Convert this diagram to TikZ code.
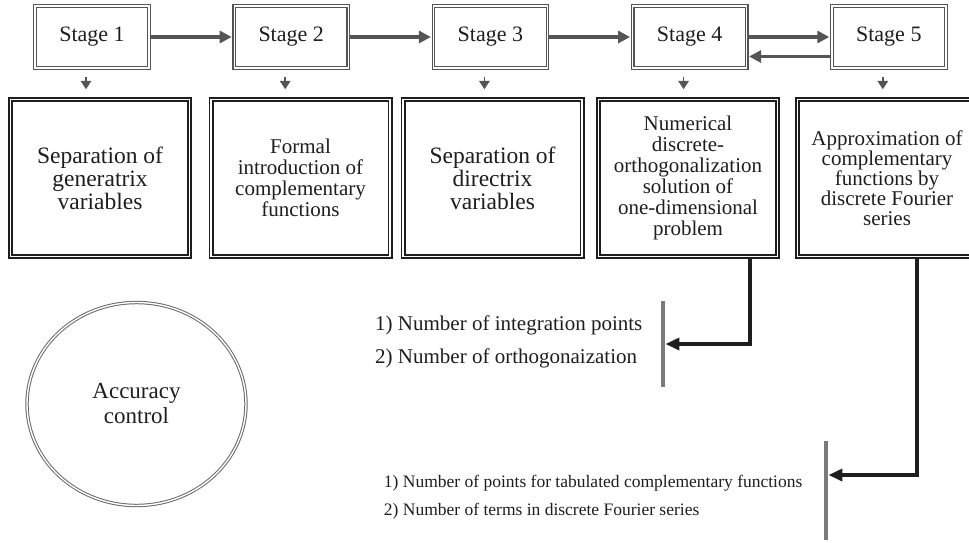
\documentclass[tikz,border=0pt]{standalone}
\usepackage{fontspec}
\setmainfont{Liberation Serif}
\usetikzlibrary{arrows.meta,positioning,shapes.geometric}
\definecolor{StageGray}{HTML}{555555}
\definecolor{RingGray}{HTML}{6A6A6A}
\definecolor{BarGray}{HTML}{7A7A7A}
\definecolor{InkBlack}{HTML}{1E1E1E}

\begin{document}
\begin{tikzpicture}[x=1pt, y=-1pt, node distance=84pt, every node/.style={text=InkBlack},
  stage/.style={draw=StageGray, double, line width=1.2pt, double distance=1.4pt, minimum width=114pt, minimum height=62pt, inner sep=0pt, font=\fontsize{22}{24}\selectfont},
  task/.style={draw=InkBlack, double, line width=1.6pt, double distance=1.8pt, minimum width=179pt, minimum height=157pt, inner sep=0pt, align=center, font=\fontsize{21}{21}\selectfont},
  bigtext/.style={font=\fontsize{23.5}{23}\selectfont},
  accuracy/.style={ellipse, draw=RingGray, double, line width=1pt, double distance=1.4pt, minimum width=219pt, minimum height=203pt, inner sep=0pt, align=center, font=\fontsize{23}{25}\selectfont},
  flow/.style={-{Triangle[length=12pt,width=12pt]}, line width=3.3pt, color=StageGray, shorten >=1.9pt},
  drop/.style={-{Triangle[length=8.5pt,width=10.5pt]}, line width=1.7pt, color=StageGray, shorten <=8pt, shorten >=9.4pt},
  link/.style={-{Triangle[length=14pt,width=12pt]}, line width=3.8pt, color=InkBlack},
  bar/.style={fill=BarGray, minimum width=4.5pt, inner sep=0pt},
  note/.style={align=left, inner sep=0pt, font=\fontsize{21}{33}\selectfont}]
\useasboundingbox (0,0) rectangle (969,542);
\clip (0,0) rectangle (969,542);
% stage row
\node[stage] (s1) at (92,37) {Stage 1};
\node[stage, right=of s1] (s2) {Stage 2};
\node[stage, right=of s2] (s3) {Stage 3};
\node[stage, right=of s3] (s4) {Stage 4};
\node[stage, right=of s4] (s5) {Stage 5};
% task boxes
\node[task, bigtext] (b1) at (100,178) {Separation of\\generatrix\\variables};
\node[task] (b2) at (300.5,178) {Formal\\introduction of\\complementary\\functions};
\node[task, bigtext] (b3) at (492.5,178) {Separation of\\directrix\\variables};
\node[task] (b4) at (688,178) {Numerical\\discrete-\\orthogonalization\\solution of\\one-dimensional\\problem};
\node[task, font=\fontsize{21}{20}\selectfont] (b5) at (887,178) {Approximation of\\complementary\\functions by\\discrete Fourier\\series};
% parameters
\node[bar, minimum height=86pt] (r1) at (663,344) {};
\node[bar, minimum height=99pt] (r2) at (826,490.5) {};
\node[note, left=18pt of r1, yshift=2pt] (n1) {1) Number of integration points\\2) Number of orthogonaization};
\node[note, font=\fontsize{17.5}{28}\selectfont, left=21pt of r2, yshift=-6.5pt] (n2) {1) Number of points for tabulated complementary functions\\2) Number of terms in discrete Fourier series};
\node[accuracy] (acc) at (136.5,404) {Accuracy\\control};
% connectors
\foreach \p/\q in {1/2,2/3,3/4,4/5} \draw[flow] (s\p) -- (s\q);
\draw[flow] ([yshift=-19.5pt]s5.west) -- ([yshift=-19.5pt]s4.east);
\foreach \i in {1,...,5} \draw[drop] ([xshift=-6pt]s\i.south) -- ([xshift=-6pt]s\i.south |- b\i.north);
\draw[link] ([xshift=62pt]b4.south) |- (r1.east);
\draw[link] ([xshift=30pt]b5.south) |- ([yshift=15.5pt]r2.east);
\end{tikzpicture}
\end{document}
